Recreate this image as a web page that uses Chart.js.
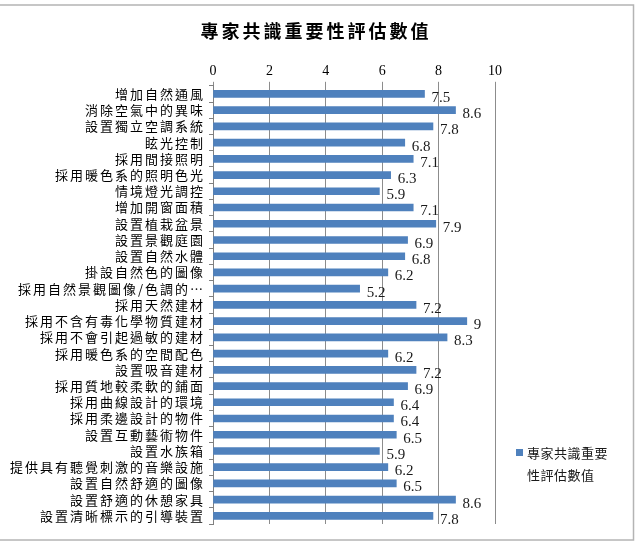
<!DOCTYPE html>
<html>
<head>
<meta charset="utf-8">
<script src="https://cdn.jsdelivr.net/npm/chart.js@4/dist/chart.umd.min.js"></script>
<style>
html,body{margin:0;padding:0;background:#fff;}
#wrap{width:636px;height:546px;position:relative;}
</style>
</head>
<body>
<div id="wrap"><canvas id="c" width="636" height="546"></canvas></div>
<script>
const chartTitle = '專家共識重要性評估數值';
const seriesName = '專家共識重要性評估數值';
const legendLines = ['專家共識重要', '性評估數值'];
const categories = [
  '增加自然通風',
  '消除空氣中的異味',
  '設置獨立空調系統',
  '眩光控制',
  '採用間接照明',
  '採用暖色系的照明色光',
  '情境燈光調控',
  '增加開窗面積',
  '設置植栽盆景',
  '設置景觀庭園',
  '設置自然水體',
  '掛設自然色的圖像',
  '採用自然景觀圖像/色調的…',
  '採用天然建材',
  '採用不含有毒化學物質建材',
  '採用不會引起過敏的建材',
  '採用暖色系的空間配色',
  '設置吸音建材',
  '採用質地較柔軟的鋪面',
  '採用曲線設計的環境',
  '採用柔邊設計的物件',
  '設置互動藝術物件',
  '設置水族箱',
  '提供具有聽覺刺激的音樂設施',
  '設置自然舒適的圖像',
  '設置舒適的休憩家具',
  '設置清晰標示的引導裝置'
];
const values = [7.5, 8.6, 7.8, 6.8, 7.1, 6.3, 5.9, 7.1, 7.9, 6.9, 6.8, 6.2, 5.2, 7.2, 9, 8.3, 6.2, 7.2, 6.9, 6.4, 6.4, 6.5, 5.9, 6.2, 6.5, 8.6, 7.8];
const xTicks = [0, 2, 4, 6, 8, 10];

const cjk = '"Noto Sans CJK TC", "Noto Sans CJK SC", sans-serif';
const serif = '"Liberation Serif", "DejaVu Serif", serif';
const barColor = '#4F81BD';

const framePlugin = {
  id: 'frame',
  beforeDraw(chart) {
    const ctx = chart.ctx;
    ctx.save();
    ctx.fillStyle = '#fff';
    ctx.fillRect(0, 0, chart.width, chart.height);
    ctx.strokeStyle = '#b4b4b4';
    ctx.lineWidth = 1.5;
    ctx.strokeRect(-2, 5, 635.5, 535);
    ctx.restore();
  }
};

const titlePlugin = {
  id: 'customTitle',
  afterDraw(chart) {
    const ctx = chart.ctx;
    ctx.save();
    ctx.font = 'bold 18px ' + cjk;
    ctx.letterSpacing = '3px';
    ctx.fillStyle = '#000';
    ctx.textAlign = 'center';
    ctx.textBaseline = 'middle';
    ctx.fillText(chartTitle, 316, 31);
    ctx.restore();
  }
};

const valueLabels = {
  id: 'valueLabels',
  afterDatasetsDraw(chart) {
    const ctx = chart.ctx;
    const meta = chart.getDatasetMeta(0);
    ctx.save();
    ctx.font = '15px ' + serif;
    ctx.fillStyle = '#1a1a1a';
    ctx.textAlign = 'left';
    ctx.textBaseline = 'middle';
    meta.data.forEach((bar, i) => {
      ctx.fillText(String(chart.data.datasets[0].data[i]), bar.x + 7, bar.y + 4);
    });
    ctx.restore();
  }
};

const customLegend = {
  id: 'customLegend',
  afterDraw(chart) {
    const ctx = chart.ctx;
    const x0 = 516, y0 = 453;
    ctx.save();
    ctx.fillStyle = barColor;
    ctx.fillRect(x0, y0 - 4, 7, 7);
    ctx.fillStyle = '#1a1a1a';
    ctx.font = '13px ' + cjk;
    ctx.letterSpacing = '0.5px';
    ctx.textAlign = 'left';
    ctx.textBaseline = 'middle';
    ctx.fillText(legendLines[0], x0 + 11, y0);
    ctx.fillText(legendLines[1], x0 + 11, y0 + 22);
    ctx.restore();
  }
};

new Chart(document.getElementById('c'), {
  type: 'bar',
  data: {
    labels: categories,
    datasets: [{
      label: seriesName,
      data: values,
      backgroundColor: barColor,
      borderWidth: 0,
      barThickness: 7
    }]
  },
  options: {
    indexAxis: 'y',
    responsive: false,
    animation: false,
    devicePixelRatio: 1,
    layout: { padding: { left: 5, right: 141, top: 61, bottom: 22 } },
    plugins: {
      legend: { display: false },
      tooltip: { enabled: false },
      title: { display: false }
    },
    scales: {
      x: {
        position: 'top',
        min: 0,
        max: 10,
        afterBuildTicks(scale) { scale.ticks = xTicks.map(v => ({ value: v })); },
        ticks: {
          color: '#000',
          font: { family: serif, size: 14 },
          padding: 2
        },
        grid: {
          color: '#8c8c8c',
          lineWidth: 1,
          tickLength: 4,
          tickColor: '#8c8c8c'
        },
        border: { display: false }
      },
      y: {
        afterFit(scale) {
          scale.width = 208;
          if (!scale._spacedLabels) {
            const orig = scale.drawLabels.bind(scale);
            scale.drawLabels = function (area) {
              const ctx = this.ctx;
              ctx.save();
              ctx.letterSpacing = '2px';
              ctx.translate(2, 0);
              orig(area);
              ctx.restore();
            };
            scale._spacedLabels = true;
          }
        },
        ticks: {
          color: '#000',
          font: { family: cjk, size: 13 },
          padding: 6,
          autoSkip: false
        },
        grid: {
          offset: true,
          drawOnChartArea: false,
          drawTicks: true,
          tickLength: 4,
          tickColor: '#808080'
        },
        border: { display: true, color: '#808080', width: 1 }
      }
    }
  },
  plugins: [framePlugin, valueLabels, customLegend, titlePlugin]
});
</script>
</body>
</html>
